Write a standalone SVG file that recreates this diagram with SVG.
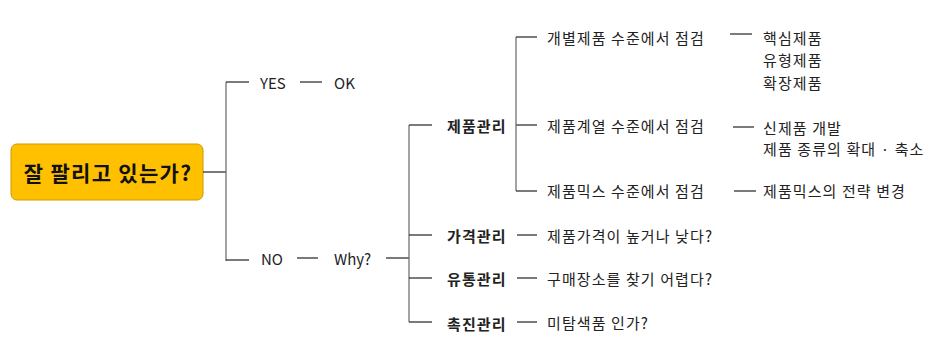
<svg xmlns="http://www.w3.org/2000/svg" width="937" height="352" viewBox="0 0 937 352">
<style>
.t{font-family:"Noto Sans CJK KR","Noto Sans",sans-serif;font-size:15px;fill:#222;dominant-baseline:central}
.k{letter-spacing:1.1px}
.b{font-weight:bold}
.c line{stroke:#222;stroke-width:1.2}
.c line.v{stroke:#666}
</style>
<rect width="937" height="352" fill="#fff"/>
<g id="root">
<rect x="11" y="144" width="192" height="56" rx="6" fill="#FFC000" stroke="#C99A00" stroke-width="1"/>
<text class="t b" x="108" y="172" text-anchor="middle" style="font-size:21px;fill:#111;letter-spacing:1.3px">잘 팔리고 있는가?</text>
</g>
<g class="c" id="connectors">
<line x1="203" y1="172" x2="226" y2="172"/>
<line class="v" x1="226" y1="82" x2="226" y2="261"/>
<line x1="226" y1="82" x2="249" y2="82"/>
<line x1="226" y1="260" x2="249" y2="260"/>
<line x1="300" y1="82" x2="322" y2="82"/>
<line x1="297" y1="258" x2="318" y2="258"/>
<line x1="386" y1="258" x2="409" y2="258"/>
<line class="v" x1="409" y1="125" x2="409" y2="322"/>
<line x1="409" y1="125" x2="432" y2="125"/>
<line x1="409" y1="235" x2="432" y2="235"/>
<line x1="409" y1="278" x2="432" y2="278"/>
<line x1="409" y1="322" x2="432" y2="322"/>
<line x1="516" y1="125" x2="537" y2="125"/>
<line class="v" x1="516" y1="37" x2="516" y2="191"/>
<line x1="516" y1="37" x2="537" y2="37"/>
<line x1="516" y1="191" x2="537" y2="191"/>
<line x1="517" y1="235" x2="537" y2="235"/>
<line x1="517" y1="278" x2="537" y2="278"/>
<line x1="517" y1="322" x2="537" y2="322"/>
<line x1="730" y1="34" x2="752" y2="34"/>
<line x1="733" y1="127" x2="754" y2="127"/>
<line x1="734" y1="191" x2="756" y2="191"/>
</g>
<g id="yes"><text class="t" x="260" y="82">YES</text></g>
<g id="ok"><text class="t" x="334" y="82">OK</text></g>
<g id="no"><text class="t" x="261" y="258">NO</text></g>
<g id="why"><text class="t" x="334" y="258">Why?</text></g>
<g id="p1"><text class="t b k" x="447" y="125">제품관리</text></g>
<g id="p2"><text class="t b k" x="447" y="235">가격관리</text></g>
<g id="p3"><text class="t b k" x="447" y="278">유통관리</text></g>
<g id="p4"><text class="t b k" x="447" y="323">촉진관리</text></g>
<g id="q1"><text class="t k" x="547" y="37">개별제품 수준에서 점검</text></g>
<g id="q2"><text class="t k" x="547" y="125">제품계열 수준에서 점검</text></g>
<g id="q3"><text class="t k" x="547" y="190">제품믹스 수준에서 점검</text></g>
<g id="q4"><text class="t k" x="547" y="235">제품가격이 높거나 낮다?</text></g>
<g id="q5"><text class="t k" x="547" y="278">구매장소를 찾기 어렵다?</text></g>
<g id="q6"><text class="t k" x="547" y="322">미탐색품 인가?</text></g>
<g id="r1"><text class="t k" x="763" y="37">핵심제품</text><text class="t k" x="763" y="59">유형제품</text><text class="t k" x="763" y="82">확장제품</text></g>
<g id="r2"><text class="t k" x="763" y="127">신제품 개발</text><text class="t k" x="763" y="148">제품 종류의 확대 · 축소</text></g>
<g id="r3"><text class="t k" x="763" y="190">제품믹스의 전략 변경</text></g>
</svg>
